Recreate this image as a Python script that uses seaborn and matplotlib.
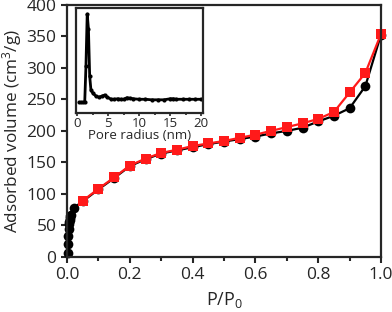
import matplotlib
matplotlib.use("Agg")
import matplotlib.pyplot as plt
from matplotlib.ticker import MultipleLocator
import seaborn as sns
import pandas as pd

# adsorption branch (black circles), dense at low pressure
ads_x = [0.002, 0.002, 0.002, 0.002, 0.003, 0.003, 0.003, 0.003, 0.003, 0.004,
         0.004, 0.004, 0.004, 0.005, 0.005, 0.005, 0.006, 0.006, 0.007, 0.008,
         0.009, 0.011, 0.013,
         0.022, 0.05, 0.10, 0.15, 0.20, 0.25, 0.30, 0.35, 0.40,
         0.45, 0.50, 0.55, 0.60, 0.65, 0.70, 0.75, 0.80, 0.85, 0.90, 0.95, 1.00]
ads_y = [2, 5, 8, 11, 14, 17, 20, 23, 26, 29,
         32, 35, 38, 41, 44, 47, 50, 53, 56, 59,
         61, 64, 66,
         78, 88, 107, 125, 144, 155, 164, 169, 174,
         179, 183, 187, 191, 196, 200, 205, 215, 224, 236, 271, 353]

# desorption branch (red squares)
des_x = [1.00, 0.95, 0.90, 0.85, 0.80, 0.75, 0.70, 0.65, 0.60, 0.55, 0.50,
         0.45, 0.40, 0.35, 0.30, 0.25, 0.20, 0.15, 0.10, 0.05]
des_y = [354, 292, 261, 230, 219, 212, 206, 200, 194, 189, 184,
         180, 176, 170, 165, 156, 145, 126, 108, 89]

# pore size distribution (inset)
pore_r = [0.3, 0.6, 0.9, 1.2, 1.4, 1.6, 1.8, 2.0, 2.2, 2.5, 3.0, 3.5, 4.0, 4.4,
          4.8, 5.5, 6.0, 6.5, 7.0, 7.5, 8.0, 8.5, 9.0, 10, 11, 12, 13, 14, 15,
          15.5, 16, 17, 18, 19, 20]
pore_v = [0.10, 0.10, 0.10, 0.10, 0.45, 0.94, 0.80, 0.35, 0.22, 0.19, 0.16, 0.15,
          0.16, 0.17, 0.15, 0.13, 0.13, 0.135, 0.13, 0.13, 0.145, 0.14, 0.135,
          0.13, 0.13, 0.125, 0.125, 0.125, 0.135, 0.135, 0.13, 0.13, 0.13, 0.13, 0.13]

sns.set_theme(style="ticks")
plt.rcParams['font.family'] = ['Open Sans', 'DejaVu Sans']
plt.rcParams['mathtext.default'] = 'regular'

ads = pd.DataFrame({'p': ads_x, 'v': ads_y})
des = pd.DataFrame({'p': des_x, 'v': des_y})
psd = pd.DataFrame({'r': pore_r, 'v': pore_v})

fig = plt.figure(figsize=(3.92, 3.12), dpi=100)
ax = fig.add_axes([0.171, 0.177, 0.801, 0.807])

sns.lineplot(data=ads, x='p', y='v', sort=False, color='black', marker='o',
             markersize=7, markeredgewidth=0, linewidth=1.6, clip_on=False, ax=ax)
sns.lineplot(data=des, x='p', y='v', sort=False, color='#ff1a1a', marker='s',
             markersize=6.5, markeredgewidth=0, linewidth=1.6, clip_on=False, ax=ax)

ax.set_xlim(0, 1.0)
ax.set_ylim(0, 400)
ax.xaxis.set_major_locator(MultipleLocator(0.2))
ax.xaxis.set_minor_locator(MultipleLocator(0.1))
ax.yaxis.set_major_locator(MultipleLocator(50))
ax.xaxis.set_major_formatter(plt.FuncFormatter(lambda v, p: f"{v:.1f}"))
ax.tick_params(which='both', direction='out', width=1.5, labelsize=12.5, length=4)
ax.tick_params(which='minor', length=3)
for s in ax.spines.values():
    s.set_linewidth(1.6)
    s.set_visible(True)
ax.set_xlabel('P/P$_0$', fontsize=13, labelpad=5)
ax.set_ylabel('Adsorbed volume (cm$^3$/g)', fontsize=12.3, labelpad=2)

# inset
ins = fig.add_axes([0.194, 0.638, 0.324, 0.337])
sns.lineplot(data=psd, x='r', y='v', color='black', marker='o', markersize=3,
             markeredgewidth=0, linewidth=2.0, ax=ins)
ins.set_xlim(-0.2, 20.3)
ins.set_ylim(0, 1.0)
ins.set_yticks([])
ins.xaxis.set_major_locator(MultipleLocator(5))
ins.xaxis.set_minor_locator(MultipleLocator(2.5))
ins.tick_params(which='both', direction='out', width=1.2, length=2.5, labelsize=9.5, pad=0.5)
ins.tick_params(which='minor', length=1.5)
for s in ins.spines.values():
    s.set_linewidth(1.6)
    s.set_visible(True)
ins.set_xlabel('Pore radius (nm)', fontsize=9.5, labelpad=-1)
ins.set_ylabel('')

fig.savefig('out.png', dpi=100)
plt.close(fig)
